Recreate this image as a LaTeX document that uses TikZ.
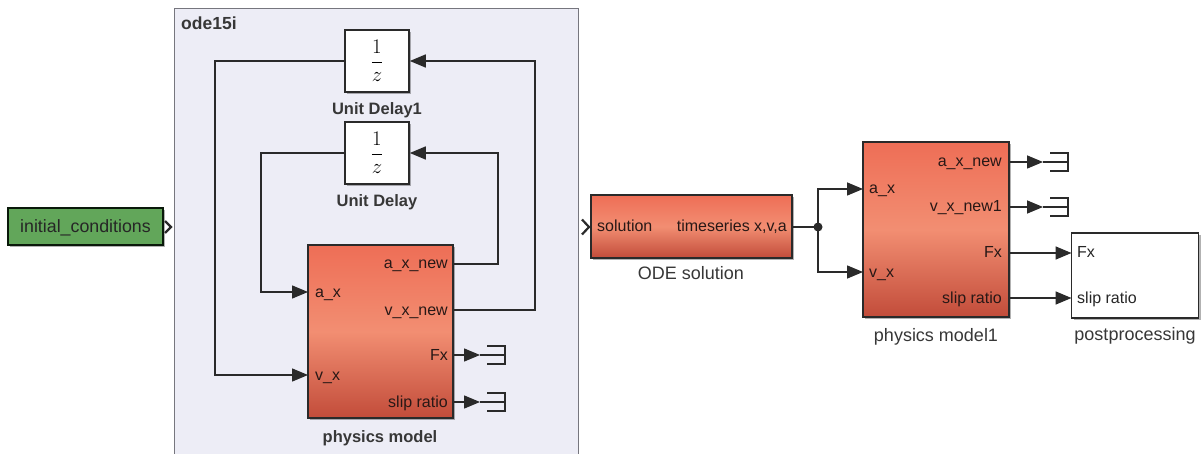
\documentclass[tikz,border=0pt]{standalone}
\usepackage{fontspec}
\setmainfont{Liberation Sans}
\usetikzlibrary{arrows.meta,shadows}

\definecolor{subbg}{RGB}{237,237,246}
\definecolor{subedge}{RGB}{118,118,126}
\definecolor{wire}{RGB}{42,42,42}
\definecolor{icgreen}{RGB}{98,166,90}
\definecolor{redtop}{RGB}{238,110,86}
\definecolor{redmid}{RGB}{242,142,114}
\definecolor{redbot}{RGB}{194,76,58}
\definecolor{labelgray}{RGB}{55,55,55}
\definecolor{porttext}{RGB}{40,24,22}

\tikzset{
  txt/.style={font=\fontsize{16}{18}\selectfont, inner sep=0},
  boldtxt/.style={font=\fontsize{16.5}{18}\selectfont\bfseries, inner sep=0, text=labelgray},
  nametxt/.style={font=\fontsize{18}{20}\selectfont, inner sep=0, text=labelgray},
  porttxt/.style={txt, text=porttext},
  blk/.style={draw=wire, line width=1.6, inner sep=0,
    drop shadow={shadow xshift=2pt, shadow yshift=-2pt, opacity=0.3, fill=black}},
  whiteblk/.style={blk, fill=white},
  redblk/.style={blk, top color=redtop, bottom color=redbot, middle color=redmid},
  wirel/.style={draw=wire, line width=1.5},
  sig/.style={wirel, -{Triangle[length=16pt,width=13pt]}},
  chevron/.style={draw=wire, line width=2.2},
  termpic/.pic={\draw[wire, line width=1.3] (7,-9) -- (25,-9) -- (25,9) -- (7,9) (0,0) -- (25,0);}
}

\begin{document}
\begin{tikzpicture}[x=1pt, y=-1pt]
\clip (0,0) rectangle (1201,454);
\fill[white] (0,0) rectangle (1201,454);

% ode15i subsystem area
\node[draw=subedge, fill=subbg, line width=1.2, minimum width=404, minimum height=470,
      anchor=north west, inner sep=0] (ode) at (174,8) {};
\node[boldtxt, font=\fontsize{17.5}{19}\selectfont\bfseries, anchor=base west] (odename) at (181,30) {ode15i};

% unit delays
\node[whiteblk, minimum width=64, minimum height=62] (ud1) at (377,61) {\fontsize{22}{24}\selectfont$\displaystyle\frac{1}{z}$};
\node[boldtxt, anchor=base] (ud1name) at (377,115) {Unit Delay1};
\node[whiteblk, minimum width=64, minimum height=62] (ud) at (377,153) {\fontsize{22}{24}\selectfont$\displaystyle\frac{1}{z}$};
\node[boldtxt, anchor=base] (udname) at (377,207) {Unit Delay};

% physics model
\node[redblk, minimum width=145, minimum height=173] (pm) at (380.5,331.5) {};
\node[boldtxt, anchor=base] (pmname) at (380,442) {physics model};
\coordinate (pmAx) at (308,292);
\coordinate (pmVx) at (308,375);
\coordinate (pmAxNew) at (453,264);
\coordinate (pmVxNew) at (453,310);
\coordinate (pmFx) at (453,355);
\coordinate (pmSlip) at (453,402);
\node[porttxt, anchor=base west] at (315,297) {a\_x};
\node[porttxt, anchor=base west] at (315,380) {v\_x};
\node[porttxt, anchor=base east] at (448,269) {a\_x\_new};
\node[porttxt, anchor=base east] at (448,315) {v\_x\_new};
\node[porttxt, anchor=base east] at (448,360) {Fx};
\node[porttxt, anchor=base east] at (448,407) {slip ratio};

% feedback loops
\draw[sig] (pmVxNew) -- ++(82,0) |- (ud1.east);
\draw[sig] (ud1.west) -- ++(-129,0) |- (pmVx);
\draw[sig] (pmAxNew) -- ++(45,0) |- (ud.east);
\draw[sig] (ud.west) -- ++(-83,0) |- (pmAx);

% terminated outputs
\coordinate (tFx) at (480,355);
\coordinate (tSlip) at (480,402);
\draw[sig] (pmFx) -- (tFx);
\draw[sig] (pmSlip) -- (tSlip);
\pic at (tFx) {termpic};
\pic at (tSlip) {termpic};

% initial conditions
\node[blk, fill=icgreen, draw=wire!80!green!30!black, minimum width=155, minimum height=37] (ic) at (85.5,226.5) {};
\node[txt, font=\fontsize{17.8}{20}\selectfont, text=black!85, anchor=base] (ictext) at (85.5,233) {initial\_conditions};
\coordinate (icport) at (165,221);
\draw[chevron] (icport) -- ++(6,6) -- ++(-6,6);

% ODE solution
\node[redblk, minimum width=201, minimum height=63] (sol) at (691.5,226.5) {};
\node[nametxt, anchor=base] (solname) at (691,279) {ODE solution};
\coordinate (solIn) at (582,219.5);
\draw[chevron] (solIn) -- ++(7,7.5) -- ++(-7,7.5);
\node[porttxt, anchor=base west] at (597,232) {solution};
\node[porttxt, anchor=base east] at (787,232) {timeseries x,v,a};
\coordinate (solOut) at (792,227);
\coordinate (jn) at (818,227);
\draw[wirel] (solOut) -- (jn);
\fill[wire] (jn) circle (4.5);

% physics model1
\node[redblk, minimum width=146, minimum height=175] (pm1) at (936,229.5) {};
\node[nametxt, anchor=base] (pm1name) at (936,341) {physics model1};
\coordinate (pm1Ax) at (863,189);
\coordinate (pm1Vx) at (863,272);
\coordinate (pm1AxNew) at (1009,162);
\coordinate (pm1VxNew) at (1009,207);
\coordinate (pm1Fx) at (1009,253);
\coordinate (pm1Slip) at (1009,298);
\node[porttxt, anchor=base west] at (869,194) {a\_x};
\node[porttxt, anchor=base west] at (869,277) {v\_x};
\node[porttxt, anchor=base east] at (1002,167) {a\_x\_new};
\node[porttxt, anchor=base east] at (1002,212) {v\_x\_new1};
\node[porttxt, anchor=base east] at (1002,258) {Fx};
\node[porttxt, anchor=base east] at (1002,303) {slip ratio};
\draw[sig] (jn) |- (pm1Ax);
\draw[sig] (jn) |- (pm1Vx);

\coordinate (t1) at (1043,162);
\coordinate (t2) at (1043,207);
\draw[sig] (pm1AxNew) -- (t1);
\draw[sig] (pm1VxNew) -- (t2);
\pic at (t1) {termpic};
\pic at (t2) {termpic};

% postprocessing
\node[whiteblk, minimum width=127, minimum height=85] (post) at (1135,275.5) {};
\node[nametxt, anchor=base] (postname) at (1135,340) {postprocessing};
\coordinate (postFx) at (1071.5,253);
\coordinate (postSlip) at (1071.5,298);
\node[porttxt, text=black!85, anchor=base west] at (1077,258) {Fx};
\node[porttxt, text=black!85, anchor=base west] at (1077,303) {slip ratio};
\draw[sig] (pm1Fx) -- (postFx);
\draw[sig] (pm1Slip) -- (postSlip);
\end{tikzpicture}
\end{document}
